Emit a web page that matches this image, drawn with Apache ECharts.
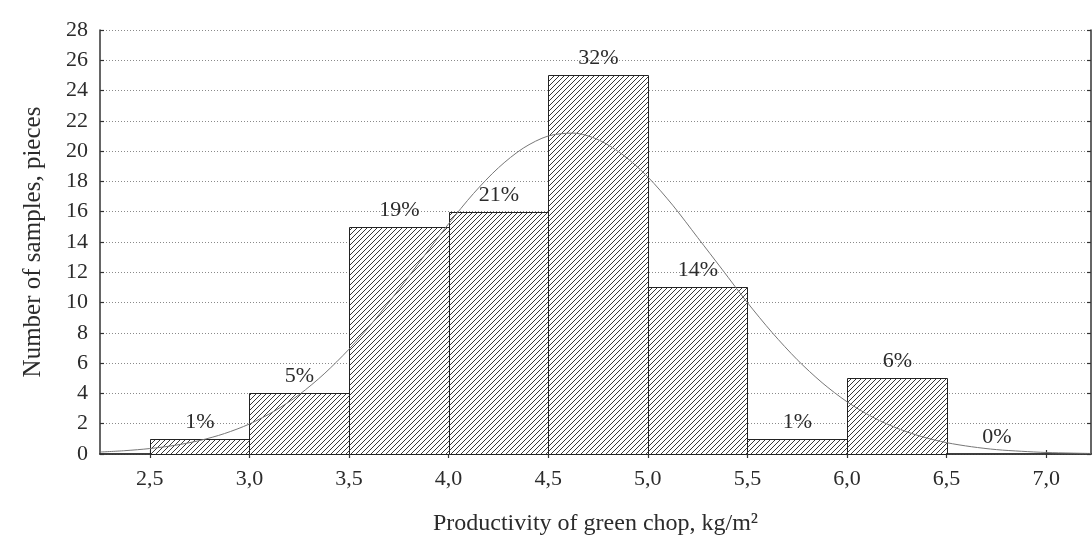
<!DOCTYPE html>
<html>
<head>
<meta charset="utf-8">
<script src="https://cdn.jsdelivr.net/npm/echarts@6/dist/echarts.min.js"></script>
<style>
  html, body { margin: 0; padding: 0; background: #fff; }
  #chart { width: 1092px; height: 542px; }
</style>
</head>
<body>
<div id="chart"></div>
<script>
// Histogram bins (left edges; each bin is 0.5 wide) and sample counts
const binStarts = [2.5, 3.0, 3.5, 4.0, 4.5, 5.0, 5.5, 6.0, 6.5];
const binWidth = 0.5;
const counts = [1, 4, 15, 16, 25, 11, 1, 5, 0];

// Fitted normal curve, sampled every 0.125
const curveX = [2.25, 2.375, 2.5, 2.625, 2.75, 2.875, 3.0, 3.125, 3.25, 3.375, 3.5, 3.625, 3.75, 3.875,
                4.0, 4.125, 4.25, 4.375, 4.5, 4.625, 4.75, 4.875, 5.0, 5.125, 5.25, 5.375, 5.5, 5.625,
                5.75, 5.875, 6.0, 6.125, 6.25, 6.375, 6.5, 6.625, 6.75, 6.875, 7.0, 7.125, 7.225];
const curveY = [0.13, 0.22, 0.36, 0.57, 0.89, 1.35, 1.98, 2.83, 3.92, 5.29, 6.92, 8.79, 10.86, 13.04,
                15.2, 17.2, 18.9, 20.2, 21.0, 21.19, 20.76, 19.76, 18.3, 16.43, 14.3, 12.16, 10.0, 8.01,
                6.23, 4.71, 3.45, 2.46, 1.71, 1.15, 0.75, 0.48, 0.29, 0.18, 0.10, 0.06, 0.035];

// Axis ticks
const xTicks = [2.5, 3.0, 3.5, 4.0, 4.5, 5.0, 5.5, 6.0, 6.5, 7.0];
const yMax = 28;
const yStep = 2;

const total = counts.reduce((a, b) => a + b, 0);
const FONT = '"Liberation Serif", "Times New Roman", serif';
const INK = '#2b2b2b';

// Diagonal hatch tile for the bar fill
function hatchPattern() {
  const s = 5;
  const c = document.createElement('canvas');
  c.width = s; c.height = s;
  const g = c.getContext('2d');
  g.fillStyle = '#ffffff';
  g.fillRect(0, 0, s, s);
  g.strokeStyle = '#383838';
  g.lineWidth = 1;
  g.beginPath();
  g.moveTo(-1, s + 1); g.lineTo(s + 1, -1);
  g.moveTo(-1, 1); g.lineTo(1, -1);
  g.moveTo(s - 1, s + 1); g.lineTo(s + 1, s - 1);
  g.stroke();
  return { image: c, repeat: 'repeat' };
}
const hatch = hatchPattern();

const barData = binStarts.map((x0, i) => [x0, x0 + binWidth, counts[i]]);
const curveData = curveX.map((x, i) => [x, curveY[i]]);

function renderBin(params, api) {
  const x0 = api.value(0), x1 = api.value(1), c = api.value(2);
  const pTop = api.coord([x0, c]);
  const pBot = api.coord([x1, 0]);
  const left = Math.round(pTop[0]) + 0.5;
  const right = Math.round(pBot[0]) + 0.5;
  const top = Math.round(pTop[1]) + 0.5;
  const bottom = Math.round(pBot[1]) + 0.5;
  const pct = Math.round(c / total * 100) + '%';
  const children = [];
  if (c > 0) {
    children.push({
      type: 'rect',
      shape: { x: left, y: top, width: right - left, height: bottom - top },
      style: { fill: hatch, stroke: '#222', lineWidth: 1 }
    });
  }
  children.push({
    type: 'text',
    style: {
      text: pct,
      x: (left + right) / 2,
      y: top - 6,
      align: 'center',
      verticalAlign: 'bottom',
      font: '22px ' + FONT,
      fill: INK
    },
    z2: 10
  });
  return { type: 'group', children: children };
}

const axisLine = { show: true, lineStyle: { color: '#333', width: 1.5 } };
const tickStyle = { color: '#333', width: 1.2 };

const chart = echarts.init(document.getElementById('chart'), null, { renderer: 'canvas' });
chart.setOption({
  animation: false,
  backgroundColor: '#ffffff',
  grid: { left: 100, right: 1, top: 30, bottom: 88, containLabel: false },
  xAxis: [
    {
      type: 'value', position: 'bottom', min: 2.25, max: 7.225,
      axisLine: axisLine,
      axisTick: { show: true, inside: true, length: 4, customValues: xTicks, lineStyle: tickStyle },
      axisLabel: {
        customValues: xTicks, margin: 14,
        formatter: v => v.toFixed(1).replace('.', ','),
        fontFamily: FONT, fontSize: 22, color: INK
      },
      splitLine: { show: false },
      name: 'Productivity of green chop, kg/m²',
      nameLocation: 'middle', nameGap: 58,
      nameTextStyle: { fontFamily: FONT, fontSize: 24, color: INK }
    },
    {
      type: 'value', position: 'top', min: 2.25, max: 7.225,
      axisLine: axisLine,
      axisTick: { show: true, inside: true, length: 4, customValues: xTicks, lineStyle: tickStyle },
      axisLabel: { show: false },
      splitLine: { show: false }
    }
  ],
  yAxis: [
    {
      type: 'value', position: 'left', min: 0, max: yMax, interval: yStep,
      axisLine: axisLine,
      axisTick: { show: true, inside: true, length: 4, lineStyle: tickStyle },
      axisLabel: { margin: 12, fontFamily: FONT, fontSize: 22, color: INK },
      splitLine: { show: true, lineStyle: { color: '#8a8a8a', width: 1, type: [1, 2] } },
      name: 'Number of samples, pieces',
      nameLocation: 'middle', nameGap: 54,
      nameTextStyle: { fontFamily: FONT, fontSize: 25, color: INK }
    },
    {
      type: 'value', position: 'right', min: 0, max: yMax, interval: yStep,
      axisLine: axisLine,
      axisTick: { show: true, inside: true, length: 4, lineStyle: tickStyle },
      axisLabel: { show: false },
      splitLine: { show: false }
    }
  ],
  series: [
    {
      type: 'custom',
      xAxisIndex: 0, yAxisIndex: 0,
      renderItem: renderBin,
      encode: { x: [0, 1], y: 2 },
      data: barData,
      z: 2
    },
    {
      type: 'line',
      xAxisIndex: 0, yAxisIndex: 0,
      data: curveData,
      smooth: 0.3,
      symbol: 'none',
      lineStyle: { color: '#777', width: 1 },
      z: 5,
      silent: true
    }
  ]
});
</script>
</body>
</html>
